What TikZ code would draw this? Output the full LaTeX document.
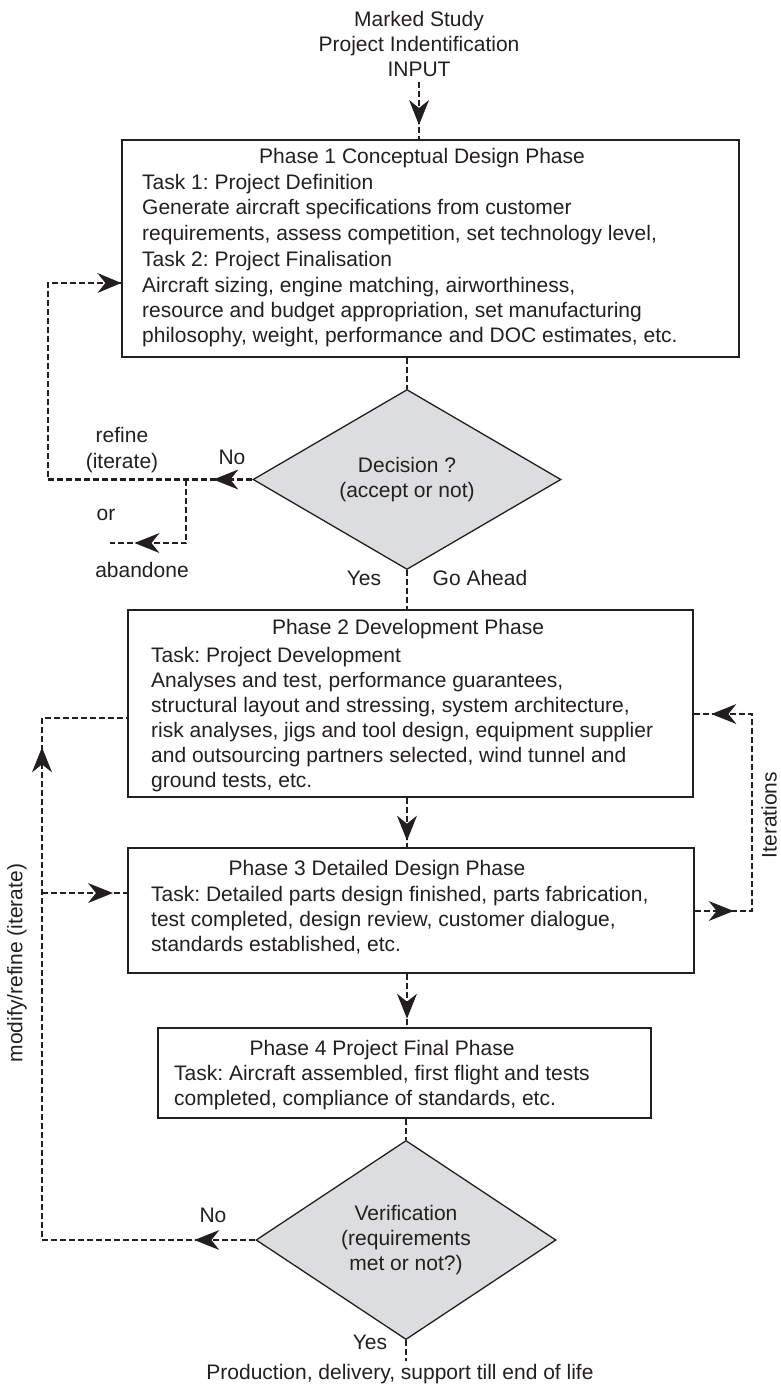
\documentclass[tikz,border=0pt]{standalone}
\usepackage{fontspec}
\setmainfont{Liberation Sans}
\usetikzlibrary{shapes.geometric,decorations.markings}
\definecolor{ink}{HTML}{231F20}
\definecolor{dfill}{HTML}{DCDDDE}
\newcommand{\fz}{\fontsize{21}{25}\selectfont}

\tikzset{
  every node/.style={text=ink, font=\fz},
  txt/.style={inner sep=0pt, anchor=base west},
  ttl/.style={inner sep=0pt, anchor=base},
  phasebox/.style={rectangle, draw=ink, line width=1.3pt, inner sep=0pt},
  decide/.style={diamond, draw=ink, line width=1.3pt, fill=dfill, inner sep=0pt, align=center},
  conn/.style={draw=ink, line width=2.5pt, dash pattern=on 6pt off 3pt},
  % solid barbed head with its point at the mark position
  tipat/.style={postaction={decorate, decoration={markings,
      mark=at position #1 with {\fill[ink] (3pt,0pt) -- (-22pt,10pt) -- (-14pt,0pt) -- (-22pt,-10pt) -- cycle;}}}},
}

\begin{document}
\frenchspacing
\begin{tikzpicture}[x=1pt, y=-1pt]
\useasboundingbox (0,0) rectangle (781,1386);

% input text
\node[ttl, align=center, anchor=south, inner ysep=5pt] (src) at (419,82)
  {Marked Study\\Project Indentification\\INPUT};

% phase 1
\node[phasebox, minimum width=617pt, minimum height=217pt] (b1) at (430.5,248.5) {};
\node[ttl] (b1t) at (422,164) {Phase 1 Conceptual Design Phase};
\node[txt] (b1a) at (142,189) {Task 1: Project Definition};
\node[txt] (b1b) at (142,214) {Generate aircraft specifications from customer};
\node[txt] (b1c) at (142,240) {requirements, assess competition, set technology level,};
\node[txt] (b1d) at (142,266) {Task 2: Project Finalisation};
\node[txt] (b1e) at (142,292) {Aircraft sizing, engine matching, airworthiness,};
\node[txt] (b1f) at (142,317) {resource and budget appropriation, set manufacturing};
\node[txt] (b1g) at (142,342) {philosophy, weight, performance and DOC estimates, etc.};

% first decision
\node[decide, minimum width=308pt, minimum height=139pt] (d1) at (407,479.5)
  {Decision ?\\(accept or not)};
\node[ttl] (no1) at (232,464) {No};
\node[ttl] (ref1) at (122,442) {refine};
\node[ttl] (ref2) at (122,468) {(iterate)};
\node[ttl] (or1) at (106,520) {or};
\node[ttl] (ab1) at (142,577) {abandone};
\node[ttl] (yes1) at (364,585) {Yes};
\node[ttl] (go1) at (480,585) {Go Ahead};

% phase 2
\node[phasebox, minimum width=565pt, minimum height=187pt] (b2) at (410.5,703.5) {};
\node[ttl] (b2t) at (408,634) {Phase 2 Development Phase};
\node[txt] (b2a) at (151,662) {Task: Project Development};
\node[txt] (b2b) at (151,687) {Analyses and test, performance guarantees,};
\node[txt] (b2c) at (151,712) {structural layout and stressing, system architecture,};
\node[txt] (b2d) at (151,737) {risk analyses, jigs and tool design, equipment supplier};
\node[txt] (b2e) at (151,762) {and outsourcing partners selected, wind tunnel and};
\node[txt] (b2f) at (151,787) {ground tests, etc.};

% phase 3
\node[phasebox, minimum width=566pt, minimum height=125pt] (b3) at (411,910.5) {};
\node[ttl] (b3t) at (377,875) {Phase 3 Detailed Design Phase};
\node[txt] (b3a) at (151,901) {Task: Detailed parts design finished, parts fabrication,};
\node[txt] (b3b) at (151,926) {test completed, design review, customer dialogue,};
\node[txt] (b3c) at (151,951) {standards established, etc.};

% phase 4
\node[phasebox, minimum width=493pt, minimum height=90pt] (b4) at (404.5,1073) {};
\node[ttl] (b4t) at (382,1055) {Phase 4 Project Final Phase};
\node[txt] (b4a) at (174,1080) {Task: Aircraft assembled, first flight and tests};
\node[txt] (b4b) at (174,1105) {completed, compliance of standards, etc.};

% verification
\node[decide, minimum width=300pt, minimum height=140pt] (d2) at (406,1240)
  {Verification\\(requirements\\met or not?)};
\node[ttl] (no2) at (213,1222) {No};
\node[ttl] (yes2) at (370,1349) {Yes};
\node[inner sep=3pt, anchor=base] (out) at (400,1379)
  {Production, delivery, support till end of life};

% side labels
\node[rotate=90, inner sep=0pt] (itl) at (769,815) {Iterations};
\node[rotate=90, inner sep=0pt] (mrl) at (17,963) {modify/refine (iterate)};

% connectors
\coordinate (colx) at (407,0);
\coordinate (rl) at (48,283);
\coordinate (ab) at (186,543);
\coordinate (abend) at (110,543);
\coordinate (ml) at (42,718);
\coordinate (mb) at (42,893);
\coordinate (ib) at (752,911);
\coordinate (it) at (752,714);

\draw[conn, tipat=40pt] (src.south) -- (src.south |- b1.north);
\draw[conn, tipat=45pt] (d1.north |- b1.south) -- (d1.north);
\draw[conn, tipat=36pt] (d1.west) -- (d1.west -| rl) -- (rl) -- (rl -| b1.west);
\fill[ink] (rl -| b1.west) -- ++(-24,-10) -- ++(8,10) -- ++(-8,10) -- cycle;
\draw[conn, tipat=112pt] (d1.west -| ab) -- (ab) -- (abend);
\draw[conn, tipat=41pt] (d1.south) -- (d1.south |- b2.north);
\draw[conn, tipat=40pt] (b2.south -| colx) -- (b3.north -| colx);
\draw[conn, tipat=42pt] (b3.south -| colx) -- (b4.north -| colx);
\draw[conn, tipat=39pt] (d2.north |- b4.south) -- (d2.north);
\draw[conn, tipat=40pt] (d2.south) -- (d2.south |- out.north);
\draw[conn, tipat=58pt, tipat=703pt] (d2.west) -- (d2.west -| ml) -- (ml) -- (ml -| b2.west);
\draw[conn, tipat=68pt] (mb) -- (mb -| b3.west);
\draw[conn, tipat=36pt, tipat=292pt] (ib -| b3.east) -- (ib) -- (it) -- (it -| b2.east);
\end{tikzpicture}
\end{document}
